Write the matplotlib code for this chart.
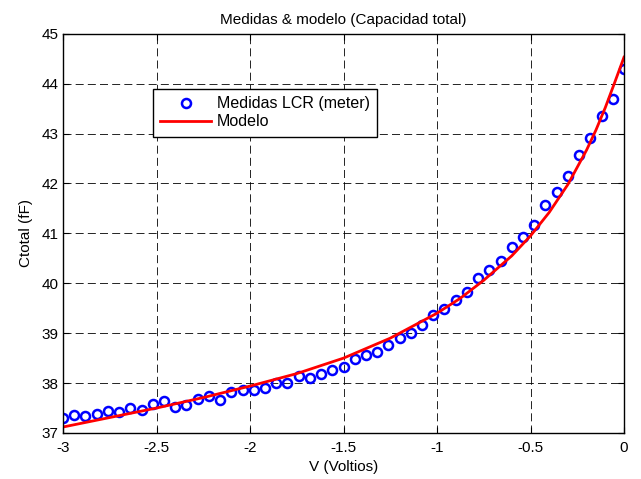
import numpy as np
import matplotlib
matplotlib.use("Agg")
import matplotlib.pyplot as plt

plt.rcParams['font.family'] = ['Liberation Sans', 'DejaVu Sans']

# Medidas LCR: tension (V) y capacidad total (fF)
v_medidas = np.round(np.arange(-3.0, 0.001, 0.06), 2)
c_medidas = [37.31, 37.37, 37.34, 37.39, 37.44, 37.43, 37.50, 37.47, 37.58, 37.64,
             37.52, 37.57, 37.68, 37.74, 37.67, 37.82, 37.87, 37.87, 37.91, 38.01,
             38.00, 38.15, 38.10, 38.19, 38.27, 38.32, 38.48, 38.56, 38.62, 38.76,
             38.91, 39.00, 39.17, 39.37, 39.48, 39.67, 39.83, 40.11, 40.26, 40.45,
             40.72, 40.93, 41.17, 41.56, 41.83, 42.15, 42.57, 42.92, 43.35, 43.69,
             44.30]

v_modelo = [-3.0, -2.75, -2.5, -2.25, -2.0, -1.75, -1.5, -1.25, -1.0, -0.875,
            -0.75, -0.6, -0.5, -0.4, -0.3, -0.2, -0.15, -0.1, -0.05, 0.0]
c_modelo = [37.12, 37.31, 37.50, 37.71, 37.94, 38.19, 38.50, 38.90, 39.40, 39.70,
            40.06, 40.55, 40.95, 41.42, 41.98, 42.67, 43.07, 43.52, 44.02, 44.53]

fig = plt.figure(figsize=(6.41, 4.79), dpi=100)
ax = fig.add_axes([63 / 641, 1 - 433 / 479, (624 - 63) / 641, (433 - 33.7) / 479])

ax.plot(v_medidas, c_medidas, 'o', color='blue', markerfacecolor='none',
        markersize=6.5, markeredgewidth=1.8, label='Medidas LCR (meter)')
ax.plot(v_modelo, c_modelo, '-', color='red', linewidth=2, label='Modelo')

ax.set_xlim(-3, 0)
ax.set_ylim(37, 45)
ax.set_xticks([-3, -2.5, -2, -1.5, -1, -0.5, 0])
ax.set_xticklabels(['-3', '-2.5', '-2', '-1.5', '-1', '-0.5', '0'])
ax.set_yticks(range(37, 46))

ax.grid(True, color='black', linestyle=(0, (9.6, 5)), linewidth=0.6)
ax.tick_params(direction='in', top=True, right=True, labelsize=11, length=4)
ax.tick_params(axis='x', pad=6)
for s in ax.spines.values():
    s.set_linewidth(1)

ax.set_title('Medidas & modelo (Capacidad total)', fontsize=11, pad=7)
ax.set_xlabel('V (Voltios)', fontsize=11, labelpad=3)
ax.set_ylabel('Ctotal (fF)', fontsize=11, labelpad=6)

leg = ax.legend(loc='upper left', bbox_to_anchor=(153 / 641, 1 - 89 / 479),
                bbox_transform=fig.transFigure, borderaxespad=0, fontsize=11.5,
                numpoints=1, handlelength=3.2, handletextpad=0.35,
                labelspacing=0.2, borderpad=0.45, fancybox=False, framealpha=1)
leg.get_frame().set_edgecolor('black')
leg.get_frame().set_linewidth(1)

fig.savefig('out.png', dpi=100)
